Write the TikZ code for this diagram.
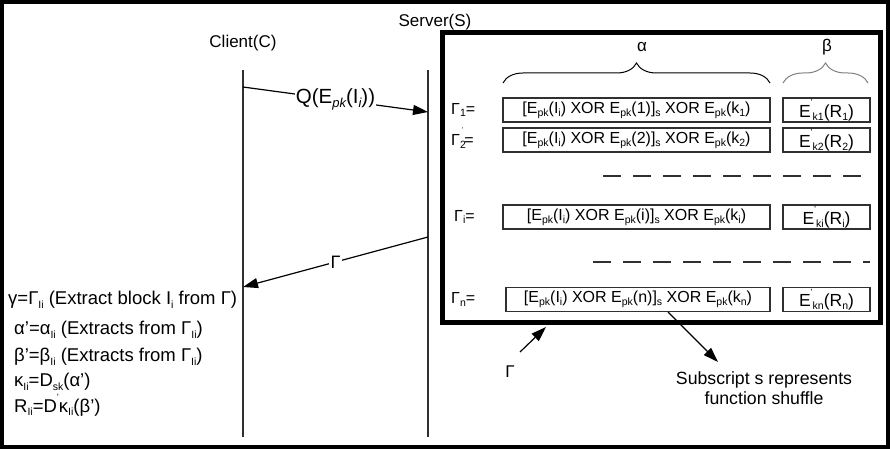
\documentclass[tikz,border=0pt]{standalone}
\usepackage{fontspec}
\setmainfont{Liberation Sans}
\usetikzlibrary{arrows.meta,decorations.pathreplacing}

% lowered small subscript and a small raised tick
\newcommand\lo[1]{\raisebox{-0.35ex}{\fontsize{10.5}{10}\selectfont #1}}
\newcommand\tck{\raisebox{1.25ex}{\fontsize{9}{9}\selectfont '}}

\definecolor{ink}{HTML}{303030}

\tikzset{
  every node/.style={font=\fontsize{16}{18}\selectfont, inner sep=0pt},
  lbl/.style={font=\fontsize{17}{19}\selectfont},
  life/.style={draw=ink, line width=1.3pt},
  msg/.style={draw=black, line width=1.2pt, -{Triangle[length=15pt,width=10pt]}},
  cell/.style={draw=ink, line width=1.2pt, minimum height=24pt},
  dashline/.style={draw=ink, line width=1.8pt, dash pattern=on 18pt off 12pt},
  brc/.style={decorate, decoration={brace, amplitude=20pt}, line width=1pt},
  lefttxt/.style={anchor=west, font=\fontsize{18.5}{20}\selectfont},
}

\begin{document}
\begin{tikzpicture}[x=1pt, y=-1pt]
\useasboundingbox (0,0) rectangle (890,449);

% outer border
\draw[line width=3.5pt] (2,2) rectangle (888,447);

% participants and lifelines
\node[lbl] (client) at (243,43) {Client(C)};
\node[lbl] (server) at (435,22) {Server(S)};
\coordinate (ct) at (243,70);
\coordinate (cb) at (243,437);
\coordinate (st) at (428,70);
\coordinate (sb) at (428,437);
\draw[life] (ct) -- (cb);
\draw[life] (st) -- (sb);

% query message
\coordinate (q0) at (243,87);
\coordinate (q1) at (428,112);
\draw[msg] (q0) -- node[fill=white, inner xsep=1pt, inner ysep=2pt, font=\fontsize{20.5}{22}\selectfont]
  {Q(E\raisebox{-0.35ex}{\fontsize{13}{13}\selectfont\itshape pk}(I\raisebox{-0.35ex}{\fontsize{13}{13}\selectfont\itshape i}))} (q1);

% reply message
\coordinate (r0) at (428,237);
\coordinate (r1) at (243,287);
\draw[msg] (r0) -- node[fill=white, inner xsep=2pt, font=\fontsize{18}{20}\selectfont] {Γ} (r1);

% server table frame
\node[draw=black, line width=5pt, minimum width=438pt, minimum height=289pt] (frame) at (661,177.5) {};

% column braces
\draw[brc, draw=black] (503,83) -- (770,83);
\draw[brc, draw=gray] (783,83) -- (868,83);
\node[lbl] (alpha) at (642,47) {α};
\node[lbl] (beta) at (827,47) {β};

% rows
\node[anchor=west] (g1) at (451,110) {Γ\lo{1}=};
\node[cell, minimum width=267pt] (a1) at (636.5,110) {[E\lo{pk}(I\lo{i}) XOR E\lo{pk}(1)]\lo{s} XOR E\lo{pk}(k\lo{1})};
\node[cell, minimum width=87pt, font=\fontsize{17.5}{19}\selectfont] (b1) at (826.5,110) {E\tck\lo{k1}(R\lo{1})};

\node[anchor=west] (g2) at (451,138) {Γ\lo{2}\hspace{-4pt}\raisebox{1.6ex}{\fontsize{7}{7}\selectfont '}\hspace{1pt}=};
\node[cell, minimum width=267pt] (a2) at (636.5,140) {[E\lo{pk}(I\lo{i}) XOR E\lo{pk}(2)]\lo{s} XOR E\lo{pk}(k\lo{2})};
\node[cell, minimum width=87pt, font=\fontsize{17.5}{19}\selectfont] (b2) at (826.5,140) {E\tck\lo{k2}(R\lo{2})};

\draw[dashline] (603,176) -- (870,176);

\node[anchor=west] (gi) at (454,217) {Γ\lo{i}=};
\node[cell, minimum width=267pt] (ai) at (636.5,217) {[E\lo{pk}(I\lo{i}) XOR E\lo{pk}(i)]\lo{s} XOR E\lo{pk}(k\lo{i})};
\node[cell, minimum width=87pt, font=\fontsize{17.5}{19}\selectfont] (bi) at (826.5,217) {E\tck\lo{ki}(R\lo{i})};

\draw[dashline] (593,262) -- (870,262);

\node[anchor=west] (gn) at (451,299.5) {Γ\lo{n}=};
\node[cell, minimum width=264pt] (an) at (638,299.5) {[E\lo{pk}(I\lo{i}) XOR E\lo{pk}(n)]\lo{s} XOR E\lo{pk}(k\lo{n})};
\node[cell, minimum width=87pt, font=\fontsize{17.5}{19}\selectfont] (bn) at (826.5,299.5) {E\tck\lo{kn}(R\lo{n})};

% pointer to the whole table
\node[lbl] (gam) at (510,372) {Γ};
\coordinate (gp0) at (520,352);
\coordinate (gp1) at (546,327);
\draw[msg] (gp0) -- (gp1);

% note on the shuffle subscript
\node[align=center, font=\fontsize{17.7}{19.5}\selectfont] (shuf) at (764,388) {Subscript s represents\\function shuffle};
\coordinate (sp0) at (668,312);
\coordinate (sp1) at (718,362);
\draw[msg] (sp0) -- (sp1);

% client-side steps
\node[lefttxt] (s1) at (8,300) {γ=Γ\lo{Ii} (Extract block I\lo{i} from Γ)};
\node[lefttxt] (s2) at (14,330) {α'=α\lo{Ii} (Extracts from Γ\lo{Ii})};
\node[lefttxt] (s3) at (14,357) {β'=β\lo{Ii} (Extracts from Γ\lo{Ii})};
\node[lefttxt] (s4) at (14,382) {κ\lo{Ii}=D\lo{sk}(α')};
\node[lefttxt] (s5) at (14,405) {R\lo{Ii}=D\tck κ\lo{Ii}(β')};
\end{tikzpicture}
\end{document}
